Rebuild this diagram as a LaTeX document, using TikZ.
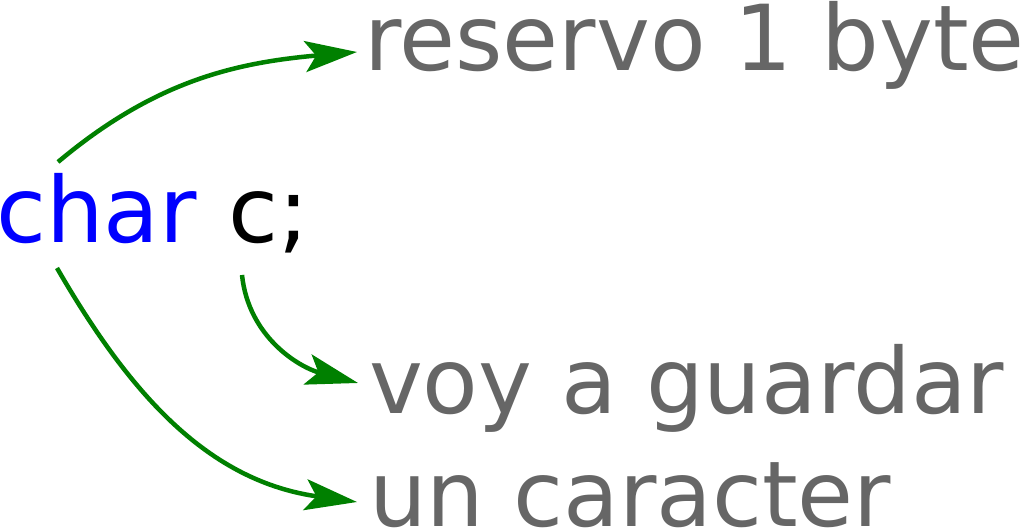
\documentclass[tikz,border=0pt]{standalone}
\usepackage{fontspec}
\setmainfont{DejaVu Sans}
\usetikzlibrary{arrows.meta}
\definecolor{txtgray}{HTML}{666666}
\definecolor{arrgreen}{HTML}{008000}
\definecolor{kwblue}{HTML}{0000FF}
\begin{document}
\begin{tikzpicture}[x=1pt,y=1pt,
  lbl/.style={anchor=base west,inner sep=0pt,outer sep=0pt,font=\fontsize{91}{100}\selectfont},
  note/.style={lbl,text=txtgray},
  conn/.style={draw=arrgreen,line width=4.5pt,-{Stealth[length=52pt,width=31pt,inset=11pt]}}]
\useasboundingbox (0,0) rectangle (1024,529);
\node[lbl,text=kwblue] (char) at (-4,286) {char};
\node[lbl,text=black] (c) at ([xshift=32pt]char.base east) {c;};
\node[note] (res) at (364,458) {reservo 1 byte};
\node[note] (voy) at (369,115) {voy a guardar};
\node[note] (un) at (369,2) {un caracter};
\coordinate (s1) at (58,367);
\coordinate (s2) at (242,254);
\coordinate (s3) at (57,261);
\coordinate (e1) at (357,477);
\coordinate (e2) at (358,146);
\coordinate (e3) at (357,27);
\draw[conn] (s1) to[out=40,in=185] (e1);
\draw[conn] (s2) to[out=-84,in=165] (e2);
\draw[conn] (s3) to[out=-60,in=172] (e3);
\end{tikzpicture}
\end{document}
